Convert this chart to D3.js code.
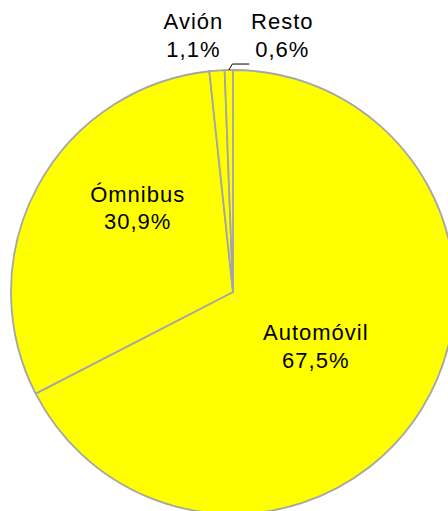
<!DOCTYPE html>
<head>
    <meta charset="utf-8">
    <title>Pie Chart</title>
    <script src="https://d3js.org/d3.v7.min.js"></script>
    <style>
        body { margin: 0; background: #fff; }
        text { font-family: "Liberation Sans", Arial, sans-serif; font-size: 22px; fill: #000; letter-spacing: 1px; }
    </style>
</head>
<body>
    <div id="container"></div>
    <script>
        //----------------------------DATA------------------------------//
        var categories = ["Automóvil", "Ómnibus", "Avión", "Resto"];
        var shares = [67.5, 30.9, 1.1, 0.6];
        var shareLabels = ["67,5%", "30,9%", "1,1%", "0,6%"];

        // label placement: angle (deg, clockwise from top) and distance from centre
        var labelAngle = [123.8, 311, 351.1, 10.8];
        var labelRadius = [99, 127, 259, 260.5];

        //----------------------------SVG-------------------------------//
        var width = 448, height = 511,
            radius = 222,
            cx = 233, cy = 292;

        var svg = d3.select("#container").append("svg")
            .attr("width", width)
            .attr("height", height);

        var g = svg.append("g")
            .attr("transform", "translate(" + cx + "," + cy + ")");

        var data = categories.map(function (c, i) {
            return { name: c, value: shares[i], label: shareLabels[i], i: i };
        });

        var pie = d3.pie().sort(null).value(function (d) { return d.value; });
        var arc = d3.arc().innerRadius(0).outerRadius(radius);
        var arcs = pie(data);

        //----------------------------SLICES----------------------------//
        g.selectAll("path.slice")
            .data(arcs)
            .enter().append("path")
            .attr("class", "slice")
            .attr("d", arc)
            .style("fill", "#FFFF00")
            .style("stroke", "#A6A6A6")
            .style("stroke-width", 1.8)
            .style("stroke-linejoin", "round");

        //----------------------------LEADER----------------------------//
        var resto = arcs[3];
        var mid = (resto.startAngle + resto.endAngle) / 2;
        var p0 = [radius * Math.sin(mid), -radius * Math.cos(mid)];
        g.append("polyline")
            .attr("points", [p0, [p0[0] + 3.5, p0[1] - 6], [p0[0] + 20.5, p0[1] - 6]].map(function (p) { return p.join(","); }).join(" "))
            .style("fill", "none")
            .style("stroke", "#000")
            .style("stroke-width", 1);

        //----------------------------LABELS----------------------------//
        var labels = g.selectAll("text.lbl")
            .data(arcs)
            .enter().append("text")
            .attr("class", "lbl")
            .attr("text-anchor", "middle")
            .attr("transform", function (d) {
                var a = labelAngle[d.index] * Math.PI / 180,
                    r = labelRadius[d.index];
                return "translate(" + (r * Math.sin(a) + 0.5) + "," + (-r * Math.cos(a)) + ")";
            });

        labels.append("tspan")
            .attr("x", 0)
            .attr("y", -7)
            .text(function (d) { return d.data.name; });

        labels.append("tspan")
            .attr("x", 0)
            .attr("y", 20.5)
            .text(function (d) { return d.data.label; });
    </script>
</body>
